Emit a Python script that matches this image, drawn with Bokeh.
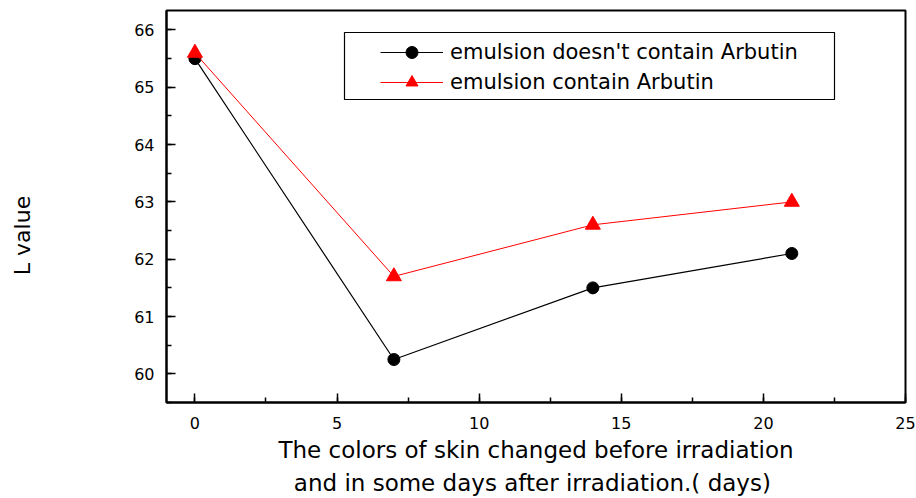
import math
from bokeh.plotting import figure
from bokeh.layouts import row
from bokeh.models import (Range1d, SingleIntervalTicker, Legend, LegendItem,
                          BoxAnnotation, Label)
from bokeh.embed import file_html
from bokeh.resources import INLINE

# ---- data ----
days = [0, 7, 14, 21]
l_without_arbutin = [65.5, 60.25, 61.5, 62.1]
l_with_arbutin = [65.6, 61.7, 62.6, 63.0]
series_labels = ["emulsion doesn't contain Arbutin", "emulsion contain Arbutin"]
x_label = ("The colors of skin changed before irradiation\n"
           "and in some days after irradiation.(  days)")
y_label = "L value"

FONT = "DejaVu Sans"
LEFT_W = 44
H = 498
FRAME_BOTTOM = 402   # canvas y of the plot frame's bottom edge

# ---- narrow panel carrying the y-axis title ----
ylab = figure(width=LEFT_W, height=H, x_range=Range1d(0, 1), y_range=Range1d(0, 1),
              x_axis_type=None, y_axis_type=None,
              output_backend="svg", toolbar_location=None, min_border=0)
ylab.outline_line_color = None
ylab.background_fill_color = "white"
ylab.border_fill_color = "white"
ylab.add_layout(Label(x=LEFT_W / 2, y=FRAME_BOTTOM - 235,
                      x_units="screen", y_units="screen",
                      text=y_label, angle=math.pi / 2, text_align="center",
                      text_baseline="middle", text_font=FONT,
                      text_font_size="22px", text_color="black"))

# ---- main plot ----
p = figure(width=916 - LEFT_W, height=H,
           x_range=Range1d(-1, 25), y_range=Range1d(59.5, 66.34),
           output_backend="svg", toolbar_location=None,
           min_border_left=166 - LEFT_W, min_border_right=11,
           min_border_top=10, min_border_bottom=H - FRAME_BOTTOM)

p.grid.visible = False
p.background_fill_color = "white"
p.border_fill_color = "white"
p.outline_line_color = "black"
p.outline_line_width = 2

p.xaxis.ticker = SingleIntervalTicker(interval=5, num_minor_ticks=2)
p.yaxis.ticker = SingleIntervalTicker(interval=1, num_minor_ticks=2)

for ax in (p.xaxis, p.yaxis):
    ax.axis_line_width = 2
    ax.axis_line_color = "black"
    ax.major_tick_in = 9
    ax.major_tick_out = 0
    ax.minor_tick_in = 5
    ax.minor_tick_out = 0
    ax.major_tick_line_width = 1.5
    ax.minor_tick_line_width = 1.5
    ax.major_tick_line_color = "black"
    ax.minor_tick_line_color = "black"
    ax.major_label_text_font = FONT
    ax.major_label_text_font_size = "16px"
    ax.major_label_text_color = "black"

p.xaxis.major_label_standoff = 14
p.yaxis.major_label_standoff = 12

p.xaxis.axis_label = x_label
p.xaxis.axis_label_text_font = FONT
p.xaxis.axis_label_text_font_size = "23px"
p.xaxis.axis_label_text_font_style = "normal"
p.xaxis.axis_label_text_color = "black"
p.xaxis.axis_label_text_line_height = 1.27
p.xaxis.axis_label_standoff = 5

# ---- series ----
l1 = p.line(days, l_without_arbutin, line_color="black", line_width=1.2)
s1 = p.scatter(days, l_without_arbutin, marker="circle", size=12,
               fill_color="black", line_color="black")
l2 = p.line(days, l_with_arbutin, line_color="red", line_width=1)
s2 = p.scatter(days, l_with_arbutin, marker="triangle", size=15,
               fill_color="red", line_color="red")

legend = Legend(items=[LegendItem(label=series_labels[0], renderers=[l1, s1]),
                       LegendItem(label=series_labels[1], renderers=[l2, s2])],
                location=(214, 305), glyph_width=63, glyph_height=30,
                label_height=30, label_standoff=7, spacing=0, padding=0,
                margin=0, border_line_color=None, background_fill_alpha=0,
                label_text_font=FONT, label_text_font_size="21px",
                label_text_color="black")
p.add_layout(legend)

box = BoxAnnotation(left=178, right=668, bottom=303, top=370,
                    left_units="screen", right_units="screen",
                    bottom_units="screen", top_units="screen",
                    fill_alpha=0, line_color="black", line_alpha=1,
                    line_width=1.2)
p.add_layout(box)

layout = row(ylab, p)
open("out.html", "w").write(file_html(layout, INLINE))
